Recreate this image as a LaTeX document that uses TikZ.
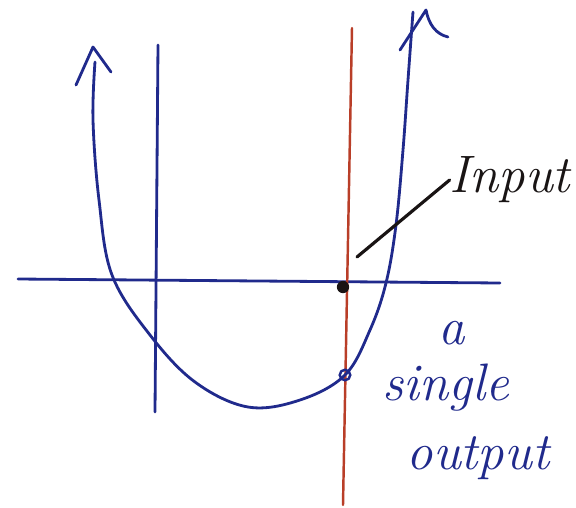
\documentclass[tikz,border=0pt]{standalone}
\usepackage{tikz}
\usetikzlibrary{arrows,positioning,calc}

\definecolor{penblue}{RGB}{32,42,140}
\definecolor{penred}{RGB}{185,62,40}
\definecolor{penblack}{RGB}{25,20,20}

\begin{document}
\begin{tikzpicture}[
    x=0.02cm, y=-0.02cm,
    axis/.style={draw=penblue, line width=1.6pt, line cap=round},
    curve/.style={draw=penblue, line width=1.6pt, line cap=round, line join=round},
    slice/.style={draw=penred, line width=1.4pt, line cap=round},
    pointer/.style={draw=penblack, line width=1.8pt, line cap=round},
    hand/.style={font=\fontsize{30}{34}\selectfont\itshape, inner sep=0pt},
    dot/.style={circle, fill=penblack, inner sep=0pt, minimum size=7pt},
    ring/.style={circle, draw=penblue, line width=1.4pt, inner sep=0pt, minimum size=6pt}
]
\useasboundingbox (0,0) rectangle (576,508);

% Axes
\coordinate (xl) at (18,279);
\coordinate (xr) at (500,283);
\coordinate (yt) at (158,45);
\coordinate (yb) at (155,412);
\draw[axis] (xl) -- (xr);
\draw[axis] (yt) -- (yb);

% Input slice
\coordinate (st) at (352,28);
\coordinate (sb) at (343,505);
\draw[slice] (st) -- (sb);

% Function
\draw[curve] plot[smooth, tension=0.6] coordinates {
    (95,62) (93,120) (99,200) (112,275) (150,335) (195,382) (248,407)
    (300,400) (345,375) (370,330) (386,283) (396,225) (403,150) (408,80) (413,12)};
\draw[curve] (76,85) -- (93,47) -- (111,72);
\draw[curve] (400,50) -- (426,10) .. controls (429,25) and (436,34) .. (448,37);

% Points
\node[dot] (in) at (343,287) {};
\node[ring] (out) at (345,375) {};

% Labels
\node[hand, text=penblack] (lin) at (510,180) {Input};
\draw[pointer] ($(in)+(14,-30)$) -- (lin.west);
\node[hand, text=penblue] (la) at (452,333) {a};
\node[hand, text=penblue] (lsingle) at (446,388) {single};
\node[hand, text=penblue] (loutput) at (478,458) {output};

\end{tikzpicture}
\end{document}
